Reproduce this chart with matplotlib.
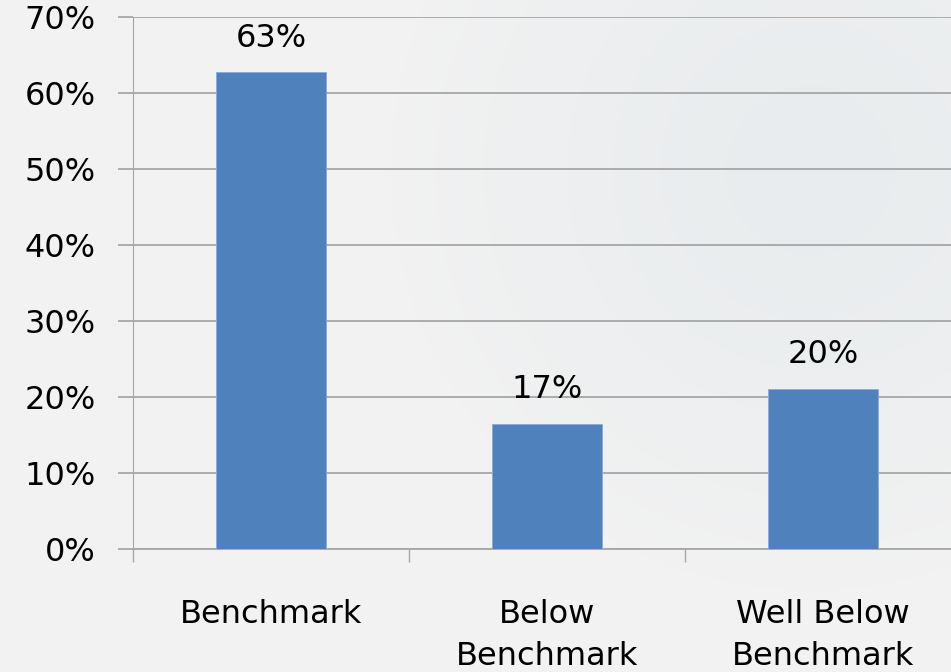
import numpy as np
import matplotlib
matplotlib.use('Agg')
import matplotlib.pyplot as plt
from matplotlib.ticker import MultipleLocator, FixedLocator, PercentFormatter

categories = ['Benchmark', 'Below\nBenchmark', 'Well Below\nBenchmark']
values = [62.7, 16.5, 21.1]
value_labels = ['63%', '17%', '20%']

BAR_COLOR = '#4f81bd'
GRID_COLOR = '#a6a6a6'
FONT_SIZE = 23

plt.rcParams['font.family'] = ['DejaVu Sans']

W, H = 951, 672
fig = plt.figure(figsize=(W / 100, H / 100), dpi=100)
fig.patch.set_facecolor('#f2f2f2')

# soft radial shading behind the chart
bg = fig.add_axes([0, 0, 1, 1], zorder=-1)
yy, xx = np.mgrid[0:H, 0:W]
dist = np.sqrt((xx - 810) ** 2 + (yy - 170) ** 2)
shade = np.clip(1 - dist / 420, 0, 1) ** 0.8
base = np.array([0xf2, 0xf2, 0xf2]) / 255
center = np.array([0xe8, 0xec, 0xee]) / 255
img = base[None, None, :] * (1 - shade[..., None]) + center[None, None, :] * shade[..., None]
bg.imshow(img, aspect='auto', interpolation='bilinear')
bg.axis('off')

left, right, bottom, top = 133, 961, 549, 17
ax = fig.add_axes([left / W, (H - bottom) / H, (right - left) / W, (bottom - top) / H])
ax.patch.set_alpha(0)

x = np.arange(len(categories))
ax.bar(x, values, width=0.395, color=BAR_COLOR, edgecolor='#8eaad6', linewidth=0.6, zorder=3)

for xi, v, lab in zip(x, values, value_labels):
    ax.annotate(lab, (xi, v), xytext=(0, 24.5), textcoords='offset points',
                ha='center', va='center', fontsize=FONT_SIZE, color='black')

ax.set_xlim(-0.5, 2.5)
ax.set_ylim(0, 70)
ax.yaxis.set_major_locator(MultipleLocator(10))
ax.yaxis.set_major_formatter(PercentFormatter(decimals=0))
ax.grid(axis='y', color=GRID_COLOR, linewidth=1.3, zorder=0)
ax.set_axisbelow(True)

ax.set_xticks(x)
ax.set_xticklabels(categories, fontsize=FONT_SIZE, linespacing=1.45)
ax.xaxis.set_minor_locator(FixedLocator([-0.5, 0.5, 1.5, 2.5]))
ax.tick_params(axis='x', which='major', length=0, pad=36)
ax.tick_params(axis='x', which='minor', length=9, width=1, color=GRID_COLOR)
ax.tick_params(axis='y', length=11, width=1.3, color=GRID_COLOR, pad=16, labelsize=FONT_SIZE)

for side in ['top', 'right']:
    ax.spines[side].set_visible(False)
ax.spines['left'].set_color(GRID_COLOR)
ax.spines['bottom'].set_color(GRID_COLOR)
ax.spines['bottom'].set_linewidth(1.3)

fig.savefig('out.png', dpi=100, facecolor=fig.get_facecolor())
